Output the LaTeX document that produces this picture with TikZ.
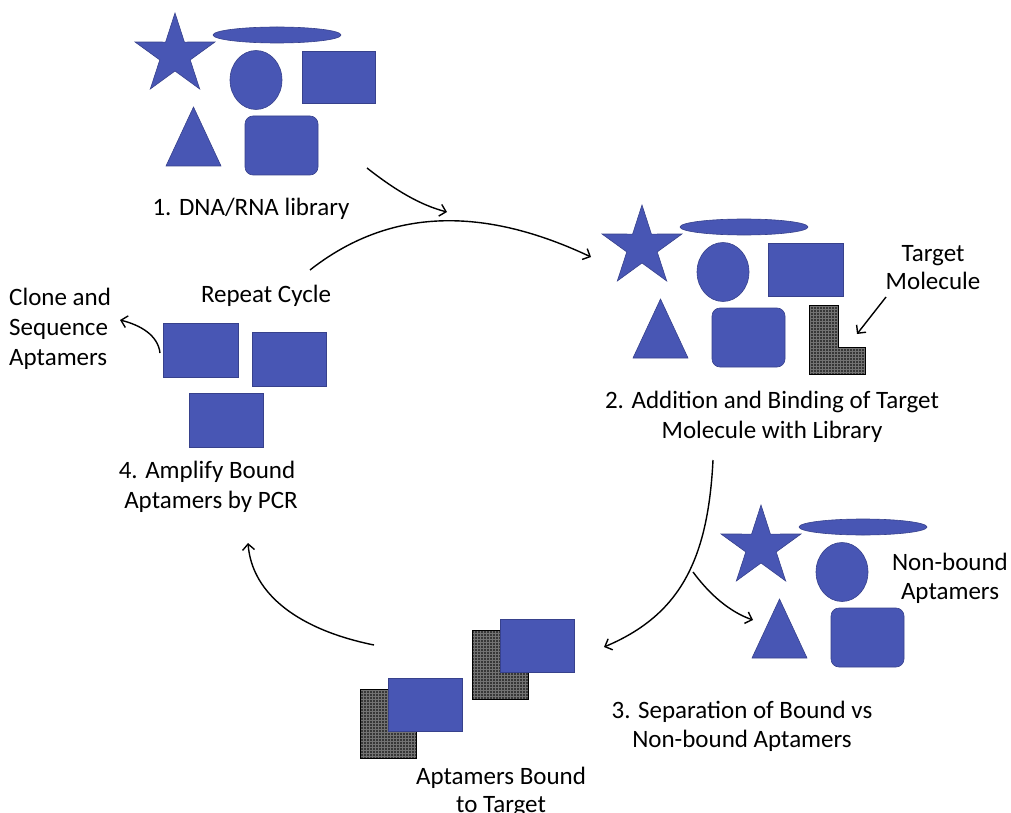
\documentclass[tikz,border=0pt]{standalone}
\usepackage{fontspec}
\setmainfont{Carlito}
\usetikzlibrary{shapes.geometric,patterns,arrows.meta}
\definecolor{shapeblue}{RGB}{72,86,180}
\definecolor{shapeedge}{RGB}{55,65,140}
\definecolor{tgtgray}{RGB}{55,55,55}
\definecolor{tgtline}{RGB}{115,115,115}
\newcommand{\libgroup}[1]{%
  \begin{scope}[shift={#1}]
    \filldraw[blueshape] (90:42pt) -- (126:16pt) -- (162:42pt) -- (198:16pt) -- (234:42pt) -- (270:16pt) -- (306:42pt) -- (342:16pt) -- (18:42pt) -- (54:16pt) -- cycle;
    \filldraw[blueshape] (102,-20) ellipse [x radius=64pt, y radius=8pt];
    \filldraw[blueshape] (81,25) ellipse [x radius=26pt, y radius=29.5pt];
    \filldraw[blueshape] (-9,111) -- (46,111) -- (18.5,52) -- cycle;
    \filldraw[blueshape,rounded corners=8pt] (70,61) rectangle (143,120);
  \end{scope}}
\newcommand{\targetL}[1]{%
  \begin{scope}[shift={#1}]
    \fill[tgtgray] (0,0) -- (29,0) -- (29,42) -- (56,42) -- (56,69) -- (0,69) -- cycle;
    \fill[pattern=grid,pattern color=tgtline] (0,0) -- (29,0) -- (29,42) -- (56,42) -- (56,69) -- (0,69) -- cycle;
    \draw[black,line width=0.8pt] (0,0) -- (29,0) -- (29,42) -- (56,42) -- (56,69) -- (0,69) -- cycle;
  \end{scope}}
\begin{document}
\begin{tikzpicture}[x=1pt,y=-1pt,
  blueshape/.style={fill=shapeblue,draw=shapeedge,line width=0.6pt},
  lbl/.style={anchor=base,inner sep=0pt,font=\fontsize{25}{30}\selectfont},
  lbll/.style={anchor=base west,inner sep=0pt,font=\fontsize{25}{30}\selectfont},
  conn/.style={line width=1.4pt,-{Straight Barb[length=6pt,width=12pt]}}]
\useasboundingbox (0,0) rectangle (1011,813);

% group 1: library
\libgroup{(175,55)}
\filldraw[blueshape] (302,51) rectangle (375,103);
\node[lbl] (t1) at (251,215) {1. DNA/RNA library};

% group 2: addition of target
\libgroup{(642,247)}
\filldraw[blueshape] (768,243) rectangle (843,296);
\targetL{(809,305)}
\node[lbl] (tg1) at (933,261) {Target};
\node[lbl] (tg2) at (933,289) {Molecule};
\node[lbl] (t2a) at (772,408) {2. Addition and Binding of Target};
\node[lbl] (t2b) at (772,438) {Molecule with Library};

% group 3: non-bound
\libgroup{(761,547)}
\node[lbl] (nb1) at (950,570) {Non-bound};
\node[lbl] (nb2) at (950,599) {Aptamers};
\node[lbl] (t3a) at (742,718) {3. Separation of Bound vs};
\node[lbl] (t3b) at (742,747) {Non-bound Aptamers};

% bound aptamers
\targetL{(360,689)}
\filldraw[blueshape] (388,678) rectangle (462,731);
\targetL{(472,630)}
\filldraw[blueshape] (500,619) rectangle (574,672);
\node[lbl] (ab1) at (501,784) {Aptamers Bound};
\node[lbl] (ab2) at (501,812) {to Target};

% amplified
\filldraw[blueshape] (163,323) rectangle (238,377);
\filldraw[blueshape] (252,332) rectangle (326,386);
\filldraw[blueshape] (189,393) rectangle (263,447);
\node[lbl] (rc) at (266,302) {Repeat Cycle};
\node[lbll] (cl1) at (9,305) {Clone and};
\node[lbll] (cl2) at (9,335) {Sequence};
\node[lbll] (cl3) at (9,365) {Aptamers};
\node[lbl] (t4a) at (207,478) {4. Amplify Bound};
\node[lbl] (t4b) at (211,508) {Aptamers by PCR};

% connector ends
\coordinate (a1s) at (367,168);
\coordinate (a1e) at (447,212);
\coordinate (a2s) at (310,270);
\coordinate (a2e) at (591,257);
\coordinate (a3s) at (713,460);
\coordinate (a3e) at (604,647);
\coordinate (a3b) at (693,572);
\coordinate (a3f) at (753,620);
\coordinate (a4s) at (374,645);
\coordinate (a4e) at (248,543);
\coordinate (cls) at (160,353);
\coordinate (cle) at (120,320);
\coordinate (tms) at (886,297);
\coordinate (tme) at (857,334);

\draw[conn] (a1s) .. controls (395,190) and (420,205) .. (a1e);
\draw[conn] (a2s) .. controls (380,215) and (470,200) .. (a2e);
\draw[conn] (a3s) .. controls (708,560) and (680,615) .. (a3e);
\draw[conn] (a3b) .. controls (710,595) and (730,612) .. (a3f);
\draw[conn] (a4s) .. controls (300,630) and (252,595) .. (a4e);
\draw[conn] (cls) .. controls (158,335) and (140,325) .. (cle);
\draw[conn] (tms) -- (tme);
\end{tikzpicture}
\end{document}
